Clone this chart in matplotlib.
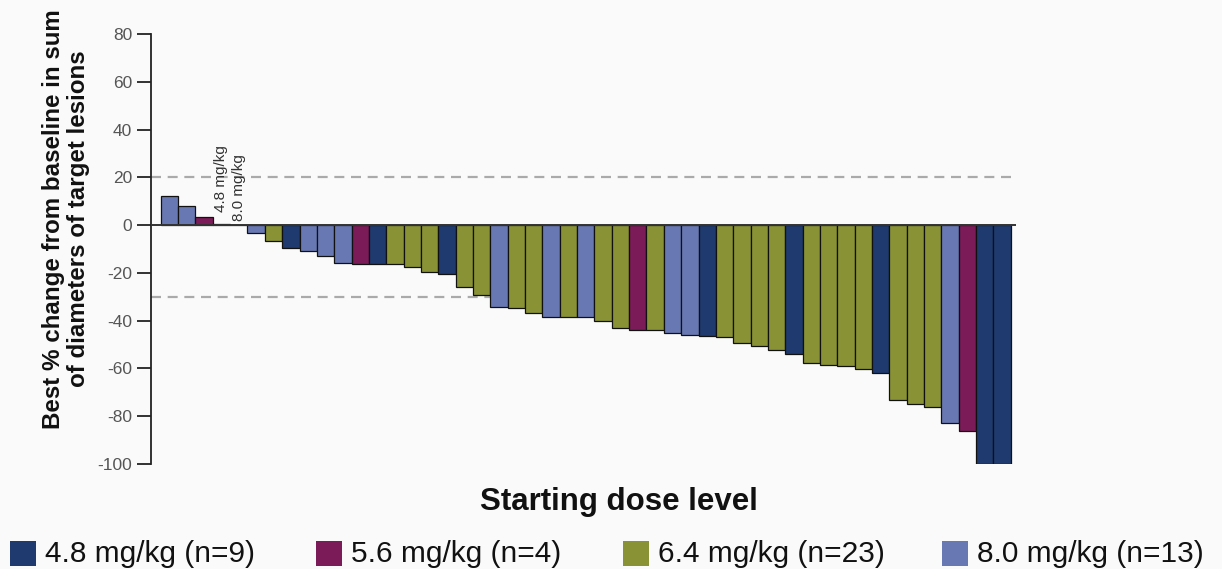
import matplotlib
matplotlib.use("Agg")
import matplotlib.pyplot as plt
from matplotlib.patches import Rectangle
import numpy as np

plt.rcParams['font.family'] = ['Liberation Sans', 'DejaVu Sans']

# ---- data ----
groups = ["4.8 mg/kg (n=9)", "5.6 mg/kg (n=4)", "6.4 mg/kg (n=23)", "8.0 mg/kg (n=13)"]
group_colors = ["#1e3a6e", "#7b1b57", "#8a9236", "#6878b3"]

# dose group index for each patient (waterfall order)
bar_group = [3, 3, 1, 0, 3, 3, 2, 0, 3, 3,
             3, 1, 0, 2, 2, 2, 0, 2, 2, 3,
             2, 2, 3, 2, 3, 2, 2, 1, 2, 3,
             3, 0, 2, 2, 2, 2, 0, 2, 2, 2,
             2, 0, 2, 2, 2, 3, 1, 0, 0]
best_change = [12.0, 8.0, 3.5, 0.5, 0.0, -3.5, -6.7, -9.4, -10.8, -12.8,
               -15.7, -16.1, -16.1, -16.4, -17.5, -19.6, -20.3, -25.7, -29.2, -34.4,
               -34.8, -36.9, -38.6, -38.6, -38.6, -40.3, -43.1, -43.8, -43.8, -45.2,
               -45.9, -46.3, -46.8, -49.5, -50.8, -52.2, -54.0, -57.9, -58.5, -58.9,
               -60.3, -61.7, -73.2, -75.0, -76.0, -82.8, -86.0, -100.0, -100.0]
yticks = [80, 60, 40, 20, 0, -20, -40, -60, -80, -100]
thresholds = [20, -30]
bar_notes = {3: "4.8 mg/kg", 4: "8.0 mg/kg"}

W, H = 1222, 569
fig = plt.figure(figsize=(W / 100, H / 100), dpi=100, facecolor="#fafafa")
ax = fig.add_axes([151 / W, 1 - 464 / H, (1016 - 151) / W, (464 - 34) / H])
ax.set_facecolor("#fafafa")

x = np.arange(len(best_change))
colors = [group_colors[g] for g in bar_group]
ax.bar(x, best_change, width=1.0, color=colors, edgecolor="#111111", linewidth=0.9, zorder=3)

for t in thresholds:
    ax.axhline(t, color="#aaaaaa", linewidth=1.6, linestyle=(0, (4.5, 3.0)), zorder=1)
ax.axhline(0, color="#333333", linewidth=1.4, zorder=4)

for i, txt in bar_notes.items():
    yoff = 5.3 if i == 3 else 1.9
    ax.text(x[i], yoff, txt, rotation=90, ha="center", va="bottom",
            fontsize=11, color="#333333", zorder=5)

ax.set_xlim(-1.06, len(best_change) - 0.2)
ax.set_ylim(-100, 80)
ax.set_yticks(yticks)
ax.set_yticklabels([str(v) for v in yticks])
ax.tick_params(axis="y", length=10, width=1.3, pad=3.5, labelsize=12.5, labelcolor="#555555", color="#222222")
ax.set_xticks([])
for s in ["top", "right", "bottom"]:
    ax.spines[s].set_visible(False)
ax.spines["left"].set_linewidth(1.3)
ax.spines["left"].set_color("#222222")

fig.text(66 / W, 1 - 219 / H, "Best % change from baseline in sum\nof diameters of target lesions",
         rotation=90, ha="center", va="center", multialignment="center",
         fontsize=17.4, fontweight="bold", color="#111111", linespacing=1.08)
fig.text(619 / W, 1 - 502 / H, "Starting dose level", ha="center", va="center",
         fontsize=22.5, fontweight="bold", color="#111111")

# legend (manual, bottom row)
sq_x = [10, 316, 623, 942]
for gx, lab, col in zip(sq_x, groups, group_colors):
    fig.add_artist(Rectangle((gx / W, 1 - 566 / H), 26 / W, 25 / H,
                             transform=fig.transFigure, facecolor=col, edgecolor="none"))
    fig.text((gx + 35) / W, 1 - 554 / H, lab, ha="left", va="center",
             fontsize=21.5, color="#111111")

fig.savefig("out.png", dpi=100, facecolor=fig.get_facecolor())
